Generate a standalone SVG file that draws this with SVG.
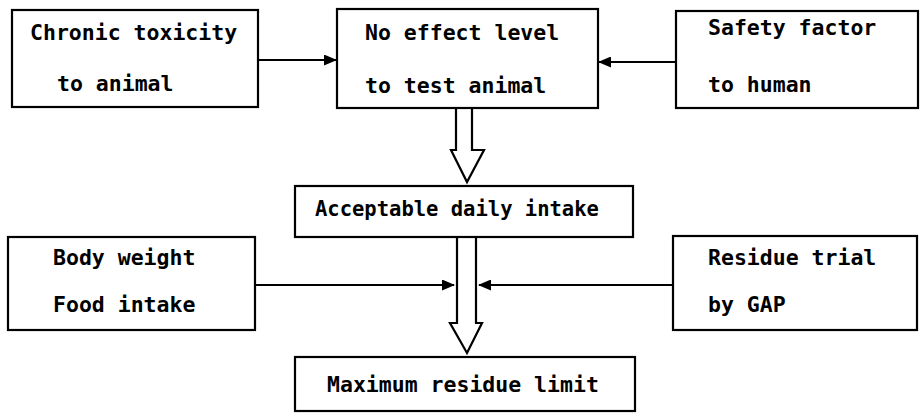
<svg xmlns="http://www.w3.org/2000/svg" width="920" height="413" viewBox="0 0 920 413">
<style>
.box{fill:#fff;stroke:#000;stroke-width:2.2}
.t{font-family:"DejaVu Sans Mono","Liberation Mono",monospace;font-weight:bold;font-size:21.5px;fill:#000}
.s{font-size:20.5px}
.ln{stroke:#000;stroke-width:2;fill:none}
.hol{fill:#fff;stroke:#000;stroke-width:2.2;stroke-linejoin:miter}
</style>
<defs>
<marker id="ah" markerWidth="13" markerHeight="11" refX="12" refY="5.5" orient="auto" markerUnits="userSpaceOnUse">
<path d="M0,0 L13,5.5 L0,11 Z" fill="#000"/>
</marker>
</defs>
<rect width="920" height="413" fill="#fff"/>
<g id="connectors">
<line class="ln" x1="258" y1="60" x2="336" y2="60" marker-end="url(#ah)"/>
<line class="ln" x1="676" y1="62" x2="599" y2="62" marker-end="url(#ah)"/>
<path class="hol" d="M456,108 L456,150 L451,150 L467,182 L484,150 L472,150 L472,108"/>
<path class="hol" d="M457,237 L457,323 L450,323 L467,353 L482,323 L476,323 L476,237"/>
<line class="ln" x1="255" y1="285" x2="454" y2="285" marker-end="url(#ah)"/>
<line class="ln" x1="673" y1="285" x2="479" y2="285" marker-end="url(#ah)"/>
</g>
<g id="chronic">
<rect class="box" x="12" y="10" width="246" height="97"/>
<text class="t" x="30" y="40">Chronic toxicity</text>
<text class="t" x="57" y="91">to animal</text>
</g>
<g id="noeffect">
<rect class="box" x="337" y="9" width="261" height="99"/>
<text class="t" x="365" y="40">No effect level</text>
<text class="t" x="365" y="93">to test animal</text>
</g>
<g id="safety">
<rect class="box" x="676" y="11" width="242" height="97"/>
<text class="t" x="708" y="35">Safety factor</text>
<text class="t" x="708" y="92">to human</text>
</g>
<g id="adi">
<rect class="box" x="295" y="186" width="338" height="51"/>
<text class="t s" x="315" y="216">Acceptable daily intake</text>
</g>
<g id="body">
<rect class="box" x="8" y="237" width="247" height="93"/>
<text class="t" x="53" y="265">Body weight</text>
<text class="t" x="53" y="312">Food intake</text>
</g>
<g id="residue">
<rect class="box" x="673" y="236" width="244" height="94"/>
<text class="t" x="708" y="265">Residue trial</text>
<text class="t" x="708" y="312">by GAP</text>
</g>
<g id="mrl">
<rect class="box" x="295" y="357" width="340" height="54"/>
<text class="t" x="327" y="392">Maximum residue limit</text>
</g>
</svg>
